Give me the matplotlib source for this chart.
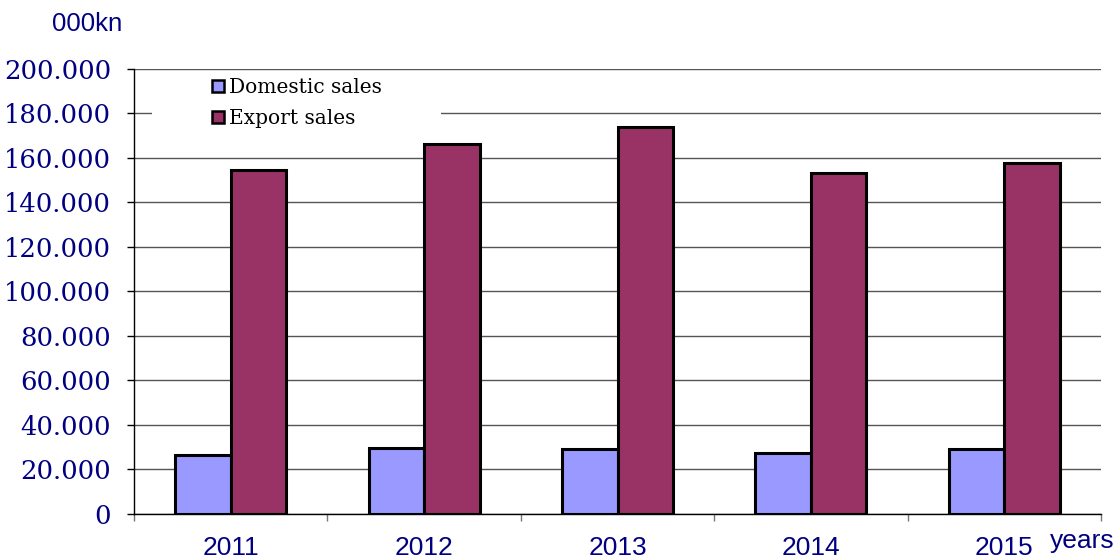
import matplotlib.pyplot as plt
from matplotlib.patches import Rectangle
import numpy as np

years = ['2011', '2012', '2013', '2014', '2015']
domestic = [26500, 29700, 29200, 27400, 29200]
export = [154600, 166300, 173900, 153300, 157800]
yticks = list(range(0, 200001, 20000))
ytick_labels = ['0'] + ['%d.000' % (v // 1000) for v in yticks[1:]]

navy = '#000080'
c_dom = '#9999FF'
c_exp = '#993366'

fig = plt.figure(figsize=(11.17, 5.59), dpi=100)
ax = fig.add_axes([0.12, 0.0805, 0.8657, 0.7961])

x = np.arange(len(years))
w = 0.287
ax.bar(x - w / 2, domestic, w, color=c_dom, edgecolor='black', linewidth=2.2, zorder=3)
ax.bar(x + w / 2, export, w, color=c_exp, edgecolor='black', linewidth=2.2, zorder=3)

ax.set_xlim(-0.5, len(years) - 0.5)
ax.set_ylim(0, 200000)

# gridlines
ax.set_yticks(yticks)
ax.set_yticklabels(ytick_labels, fontsize=18.6, family='DejaVu Serif', color=navy)
ax.yaxis.grid(True, color='#555555', linewidth=1.0)
ax.set_axisbelow(True)
ax.tick_params(axis='y', length=5, width=1, color='black', pad=11.5)

ax.set_xticks(x)
ax.set_xticklabels(years, fontsize=19, family='Liberation Sans', color=navy)
ax.set_xticks(np.arange(-0.5, len(years)), minor=True)
ax.tick_params(axis='x', which='major', length=0, pad=16)
ax.tick_params(axis='x', which='minor', length=5, width=1, color='#777777')

for s in ['top', 'right']:
    ax.spines[s].set_visible(False)
ax.spines['left'].set_linewidth(1.0)
ax.spines['bottom'].set_linewidth(1.0)

# white box behind legend (hides part of the 180 gridline)
fig.patches.append(Rectangle((152 / 1117, 1 - 138 / 559), (441 - 152) / 1117, 63 / 559,
                             transform=fig.transFigure, facecolor='white',
                             edgecolor='none', zorder=4))

handles = [Rectangle((0, 0), 1, 1, facecolor=c_dom, edgecolor='black', linewidth=1.8),
           Rectangle((0, 0), 1, 1, facecolor=c_exp, edgecolor='black', linewidth=1.8)]
leg = fig.legend(handles, ['Domestic sales', 'Export sales'],
                 loc='upper left', bbox_to_anchor=(208 / 1117, 1 - 74 / 559),
                 prop={'family': 'DejaVu Serif', 'size': 14.5},
                 handlelength=0.6, handleheight=0.6, handletextpad=0.25,
                 labelspacing=0.6, borderpad=0.2, borderaxespad=0,
                 frameon=False)
leg.set_zorder(5)

fig.text(0.0466, 0.945, '000kn', fontsize=18.5, family='Liberation Sans', color=navy)
fig.text(0.94, 0.02, 'years', fontsize=19, family='Liberation Sans', color=navy)

fig.savefig('out.png', dpi=100)
